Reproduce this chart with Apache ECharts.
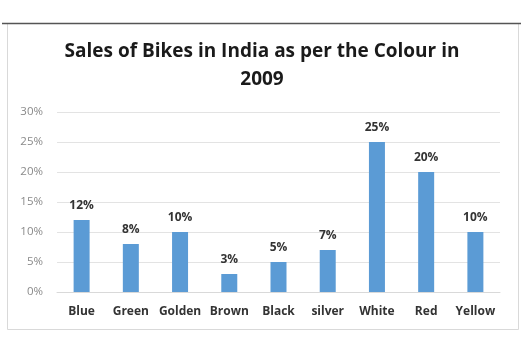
<!DOCTYPE html>
<html>
<head>
<meta charset="utf-8">
<script src="https://cdn.jsdelivr.net/npm/echarts@6/dist/echarts.min.js"></script>
<style>
  html, body { margin: 0; padding: 0; background: #fff; }
  #chart { width: 524px; height: 352px; }
</style>
</head>
<body>
<div id="chart"></div>
<script>
// bike colours and their share of sales (%)
var colours = ['Blue', 'Green', 'Golden', 'Brown', 'Black', 'silver', 'White', 'Red', 'Yellow'];
var sales = [12, 8, 10, 3, 5, 7, 25, 20, 10];
var yTicks = [0, 5, 10, 15, 20, 25, 30];

var chart = echarts.init(document.getElementById('chart'));

var option = {
  backgroundColor: '#fff',
  animation: false,
  title: {
    text: 'Sales of Bikes in India as per the Colour in\n2009',
    left: 'center',
    top: 33,
    textStyle: {
      fontFamily: 'Open Sans',
      fontSize: 19,
      fontWeight: 'bold',
      color: '#1a1a1a',
      lineHeight: 28
    }
  },
  graphic: [
    {
      type: 'rect',
      shape: { x: 7.5, y: 23.5, width: 511, height: 306 },
      style: { fill: 'none', stroke: '#d9d9d9', lineWidth: 1 }
    },
    {
      type: 'line',
      shape: { x1: 2, y1: 23.5, x2: 521, y2: 23.5 },
      style: { stroke: '#555', lineWidth: 1.5 }
    }
  ],
  grid: {
    left: 57,
    right: 24,
    top: 112,
    bottom: 60
  },
  xAxis: {
    type: 'category',
    data: colours,
    axisLine: { lineStyle: { color: '#d9d9d9' } },
    axisTick: { show: false },
    axisLabel: {
      fontFamily: 'Open Sans',
      fontSize: 12,
      fontWeight: 'bold',
      color: '#333',
      margin: 14,
      interval: 0
    }
  },
  yAxis: {
    type: 'value',
    min: 0,
    max: 30,
    interval: 5,
    axisLine: { show: false },
    axisTick: { show: false },
    splitLine: { lineStyle: { color: '#e3e3e3' } },
    axisLabel: {
      fontFamily: 'Open Sans',
      fontSize: 11.5,
      color: '#8a8a8a',
      margin: 14,
      formatter: function (v) {
        return yTicks.indexOf(v) >= 0 ? v + '%' : '';
      }
    }
  },
  series: [{
    type: 'bar',
    data: sales,
    barWidth: 16,
    itemStyle: { color: '#5b9bd5' },
    label: {
      show: true,
      position: 'top',
      distance: 8,
      formatter: '{c}%',
      fontFamily: 'Open Sans',
      fontSize: 12,
      fontWeight: 'bold',
      color: '#333'
    }
  }]
};

chart.setOption(option);
</script>
</body>
</html>
